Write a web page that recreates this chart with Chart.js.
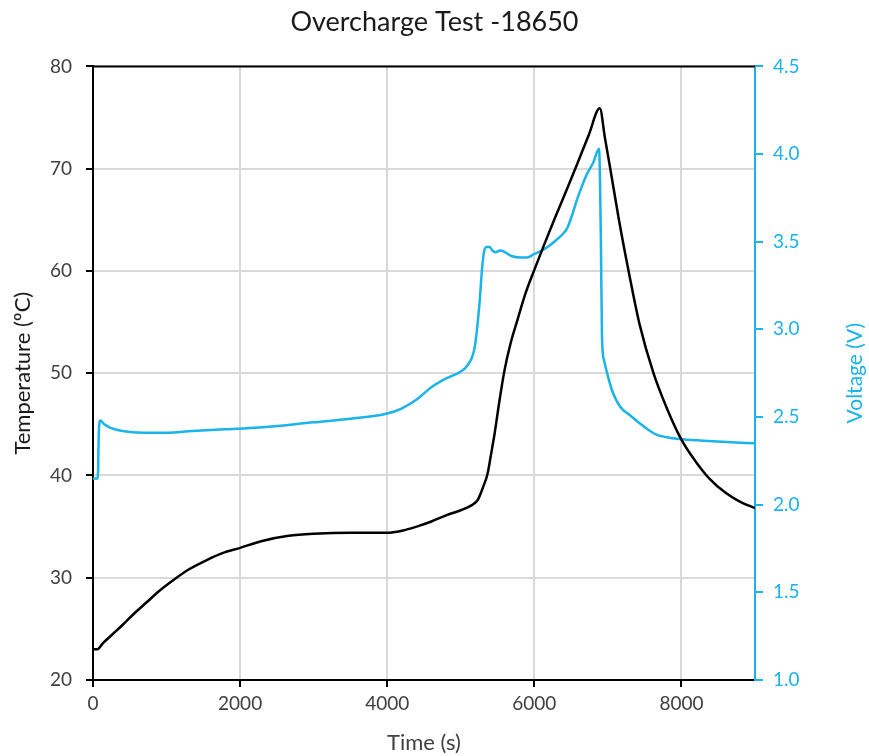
<!DOCTYPE html>
<html>
<head>
<meta charset="utf-8">
<script src="https://cdn.jsdelivr.net/npm/chart.js@4"></script>
<style>
  html, body { margin: 0; padding: 0; background: #fff; }
  #wrap { width: 869px; height: 756px; }
</style>
</head>
<body>
<div id="wrap"><canvas id="myChart"></canvas></div>
<script>
// temperature curve (s, degC)
var tempTime = [0, 60, 135, 270, 405, 560, 730, 900, 1080, 1300, 1540, 1760, 1990, 2300, 2660, 3000, 3500, 4000, 4200, 4400, 4600, 4800, 5000, 5150, 5230, 5300, 5365, 5410, 5460, 5530, 5595, 5680, 5770, 5880, 6000, 6130, 6270, 6420, 6580, 6740, 6890, 6960, 7030, 7150, 7300, 7430, 7620, 7800, 8000, 8200, 8380, 8600, 8780, 9000];
var tempValues = [23.0, 23.0, 23.6, 24.5, 25.4, 26.5, 27.6, 28.7, 29.7, 30.8, 31.7, 32.4, 32.9, 33.6, 34.1, 34.3, 34.4, 34.4, 34.6, 35.0, 35.5, 36.1, 36.6, 37.1, 37.6, 38.8, 40.2, 42.0, 44.1, 47.5, 50.3, 53.0, 55.2, 57.8, 60.1, 62.5, 65.0, 67.6, 70.4, 73.3, 75.9, 73.0, 70.1, 65.0, 59.3, 54.8, 50.0, 46.6, 43.5, 41.3, 39.7, 38.3, 37.5, 36.8];

// voltage curve (s, V)
var voltTime = [0, 65, 80, 100, 150, 230, 400, 680, 1000, 1350, 1800, 2260, 3000, 3500, 4000, 4200, 4400, 4600, 4800, 5000, 5100, 5190, 5255, 5290, 5320, 5350, 5390, 5430, 5470, 5540, 5600, 5680, 5810, 5900, 6000, 6100, 6180, 6300, 6400, 6450, 6520, 6580, 6650, 6720, 6800, 6880, 6905, 6920, 6950, 6990, 7050, 7165, 7300, 7430, 7540, 7660, 7800, 7970, 8300, 8610, 9000];
var voltValues = [2.15, 2.15, 2.42, 2.48, 2.46, 2.44, 2.42, 2.41, 2.41, 2.42, 2.43, 2.44, 2.47, 2.49, 2.52, 2.55, 2.60, 2.67, 2.72, 2.76, 2.80, 2.90, 3.15, 3.35, 3.45, 3.47, 3.47, 3.45, 3.44, 3.45, 3.44, 3.42, 3.41, 3.41, 3.43, 3.45, 3.47, 3.51, 3.55, 3.58, 3.66, 3.74, 3.82, 3.89, 3.95, 4.03, 3.50, 2.95, 2.82, 2.75, 2.66, 2.56, 2.51, 2.465, 2.43, 2.40, 2.385, 2.375, 2.365, 2.357, 2.35];

var xTicks = [0, 2000, 4000, 6000, 8000];

var blue = '#1ab3ea';
var textGrey = '#404040';
var fontFamily = 'Lato';

function toPoints(xs, ys) {
  return xs.map(function (x, i) { return { x: x, y: ys[i] }; });
}

// black line on top of the plot area + right axis title read bottom-to-top
var extras = {
  id: 'extras',
  afterDraw: function (chart) {
    var a = chart.chartArea, c = chart.ctx;
    c.save();
    c.strokeStyle = '#000';
    c.lineWidth = 2;
    c.beginPath();
    c.moveTo(a.left - 1, a.top);
    c.lineTo(a.right, a.top);
    c.stroke();

    c.translate(855, (a.top + a.bottom) / 2);
    c.rotate(-Math.PI / 2);
    c.fillStyle = blue;
    c.font = '21px ' + fontFamily;
    c.textAlign = 'center';
    c.textBaseline = 'middle';
    c.fillText('Voltage (V)', 0, 0);
    c.restore();
  }
};

new Chart(document.getElementById('myChart'), {
  type: 'line',
  data: {
    datasets: [{
      label: 'Temperature',
      data: toPoints(tempTime, tempValues),
      yAxisID: 'y',
      borderColor: '#000',
      borderWidth: 2.5,
      pointRadius: 0,
      cubicInterpolationMode: 'monotone'
    }, {
      label: 'Voltage',
      data: toPoints(voltTime, voltValues),
      yAxisID: 'y1',
      borderColor: blue,
      borderWidth: 2.5,
      pointRadius: 0,
      cubicInterpolationMode: 'monotone'
    }]
  },
  options: {
    responsive: true,
    maintainAspectRatio: false,
    animation: false,
    layout: { padding: 0 },
    plugins: {
      legend: { display: false },
      tooltip: { enabled: false },
      title: {
        display: true,
        text: 'Overcharge Test -18650',
        color: '#1a1a1a',
        font: { family: fontFamily, size: 27, weight: 'normal', lineHeight: 1.2 },
        padding: { top: 6, bottom: 28 }
      }
    },
    scales: {
      x: {
        type: 'linear',
        min: 0,
        max: 9000,
        afterFit: function (s) { s.height = 76; },
        afterBuildTicks: function (s) { s.ticks = xTicks.map(function (v) { return { value: v }; }); },
        ticks: {
          color: textGrey, padding: 5, font: { family: fontFamily, size: 19 },
          callback: function (v) { return String(v); }
        },
        grid: { color: '#d9d9d9', lineWidth: 2, tickColor: '#000', tickLength: 7 },
        border: { color: '#000', width: 2 },
        title: { display: true, text: 'Time (s)', color: textGrey, padding: { top: 2, bottom: 0 }, font: { family: fontFamily, size: 22 } }
      },
      y: {
        position: 'left',
        min: 20,
        max: 80,
        afterFit: function (s) { s.width = 93; },
        ticks: { stepSize: 10, color: textGrey, padding: 14, font: { family: fontFamily, size: 19 } },
        grid: { color: '#d9d9d9', lineWidth: 2, tickColor: '#000', tickLength: 7 },
        border: { color: '#000', width: 2 },
        title: { display: true, text: 'Temperature (ºC)', color: '#1a1a1a', padding: { top: 10, bottom: 0 }, font: { family: fontFamily, size: 22 } }
      },
      y1: {
        position: 'right',
        min: 1,
        max: 4.5,
        afterFit: function (s) { s.width = 114; },
        ticks: {
          stepSize: 0.5, color: blue, padding: 10, font: { family: fontFamily, size: 19 },
          callback: function (v) { return v.toFixed(1); }
        },
        grid: { drawOnChartArea: false, color: blue, tickColor: blue, tickLength: 8, lineWidth: 2 },
        border: { color: blue, width: 2 }
      }
    }
  },
  plugins: [extras]
});
</script>
</body>
</html>
